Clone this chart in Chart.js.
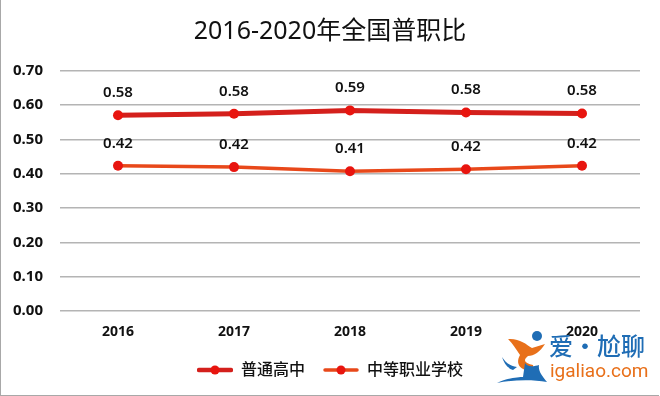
<!DOCTYPE html>
<html>
<head>
<meta charset="utf-8">
<script src="https://cdn.jsdelivr.net/npm/chart.js@4/dist/chart.umd.min.js"></script>
<style>
  html, body { margin: 0; padding: 0; background: #fff; }
  .wrap { position: relative; width: 660px; height: 396px; overflow: hidden; }
  .frame { position: absolute; left: 0; top: 0; width: 659px; height: 396px; border-left: 1px solid #a8a8a8; border-bottom: 1px solid #a8a8a8; box-sizing: border-box; pointer-events: none; }
  .mark-cn { position: absolute; left: 549px; top: 329px; font: 500 24px "Noto Sans CJK SC"; color: #1f6db5; white-space: nowrap; line-height: 32px; }
  .mark-en { position: absolute; left: 550px; top: 360px; font: 400 19px Roboto; color: #e8701a; white-space: nowrap; line-height: 22px; }
  .logo { position: absolute; left: 495px; top: 330px; }
</style>
</head>
<body>
<div class="wrap">
  <canvas id="chart" width="660" height="396"></canvas>
  <div class="frame"></div>
  <svg class="logo" width="70" height="56" viewBox="0 0 70 56">
    <circle cx="42" cy="6" r="5" fill="#1f6db5"/>
    <path d="M13 9 C24 8 31 14 37 18 L50 14 C45 22 39 26 33 26 C28 30 29 33 38 35 L39 42 C28 41 19 36 25 25 C21 19 18 14 13 9Z" fill="#e8701a"/>
    <path d="M7 27 C11 33 15 36 22 37 L18 40 C12 38 9 33 7 27Z" fill="#1f6db5"/>
    <path d="M30 33 C33 38 40 36 44 35 C43 41 47 46 52 52 C36 49 16 50 2 53 C12 48 24 47 28 47Z" fill="#1f6db5"/>
  </svg>
  <div class="mark-cn">爱·尬聊</div>
  <div class="mark-en">igaliao.com</div>
</div>
<script>
const categories = ["2016", "2017", "2018", "2019", "2020"];
const yTicks = [0, 0.1, 0.2, 0.3, 0.4, 0.5, 0.6, 0.7];
const generalValues = [0.570, 0.574, 0.584, 0.578, 0.575];
const vocationalValues = [0.423, 0.419, 0.407, 0.413, 0.423];
const generalLabels = ["0.58", "0.58", "0.59", "0.58", "0.58"];
const vocationalLabels = ["0.42", "0.42", "0.41", "0.42", "0.42"];

const latin = '"Noto Sans", "Noto Sans CJK SC", sans-serif';

// little line + dot picture for the legend
const legendIcon = function (color, lineWidth) {
  const c = document.createElement("canvas");
  c.width = 36;
  c.height = 12;
  const ctx = c.getContext("2d");
  ctx.strokeStyle = color;
  ctx.lineWidth = lineWidth;
  ctx.lineCap = "round";
  ctx.beginPath();
  ctx.moveTo(2, 6);
  ctx.lineTo(34, 6);
  ctx.stroke();
  ctx.fillStyle = "#e8150f";
  ctx.beginPath();
  ctx.arc(18, 6, 4.5, 0, Math.PI * 2);
  ctx.fill();
  return c;
};

const pointLabels = {
  id: "pointLabels",
  afterDatasetsDraw(chart) {
    const ctx = chart.ctx;
    ctx.save();
    ctx.font = "600 15px " + latin;
    ctx.fillStyle = "#111";
    ctx.textAlign = "center";
    ctx.textBaseline = "middle";
    chart.data.datasets.forEach((ds, i) => {
      chart.getDatasetMeta(i).data.forEach((pt, j) => {
        ctx.fillText(ds.valueLabels[j], pt.x, pt.y - 22.5);
      });
    });
    ctx.restore();
  },
};

new Chart(document.getElementById("chart"), {
  type: "line",
  data: {
    labels: categories,
    datasets: [
      {
        label: "普通高中",
        data: generalValues,
        valueLabels: generalLabels,
        borderColor: "#d4201c",
        borderWidth: 5,
        pointRadius: 5,
        pointBackgroundColor: "#e8150f",
        pointBorderWidth: 0,
        tension: 0,
      },
      {
        label: "中等职业学校",
        data: vocationalValues,
        valueLabels: vocationalLabels,
        borderColor: "#e8481a",
        borderWidth: 3.5,
        pointRadius: 5,
        pointBackgroundColor: "#e8150f",
        pointBorderWidth: 0,
        tension: 0,
      },
    ],
  },
  options: {
    responsive: false,
    animation: false,
    layout: { padding: { left: 0, right: 0, top: 0, bottom: 8 } },
    scales: {
      y: {
        min: 0,
        max: 0.7,
        afterFit: (scale) => { scale.width = 60; },
        afterBuildTicks: (scale) => { scale.ticks = yTicks.map((value) => ({ value })); },
        border: { display: false },
        grid: { color: "#b4b4b4", lineWidth: 1.5, drawTicks: false },
        ticks: {
          color: "#111",
          padding: 17,
          font: { family: latin, size: 15, weight: "700" },
          callback: (value) => value.toFixed(2),
        },
      },
      // empty axis on the right, keeps the title and legend centred on the page
      yRight: {
        position: "right",
        afterFit: (scale) => { scale.width = 20; },
        border: { display: false },
        grid: { display: false },
        ticks: { display: false },
      },
      x: {
        offset: true,
        border: { display: false },
        grid: { display: false },
        ticks: {
          color: "#111",
          padding: 4,
          font: { family: latin, size: 14, weight: "700" },
        },
      },
    },
    plugins: {
      title: {
        display: true,
        text: "2016-2020年全国普职比",
        color: "#111",
        font: { family: latin, size: 25, weight: "400" },
        padding: { top: 17, bottom: 23.5 },
      },
      legend: {
        position: "bottom",
        labels: {
          color: "#111",
          font: { family: latin, size: 16, weight: "500" },
          usePointStyle: true,
          pointStyleWidth: 36,
          padding: 18,
          generateLabels: () => [
            { text: "普通高中", pointStyle: legendIcon("#d4201c", 4.5), fontColor: "#111", datasetIndex: 0 },
            { text: "中等职业学校", pointStyle: legendIcon("#e8481a", 3.5), fontColor: "#111", datasetIndex: 1 },
          ],
        },
      },
      tooltip: { enabled: false },
    },
  },
  plugins: [pointLabels],
});
</script>
</body>
</html>
